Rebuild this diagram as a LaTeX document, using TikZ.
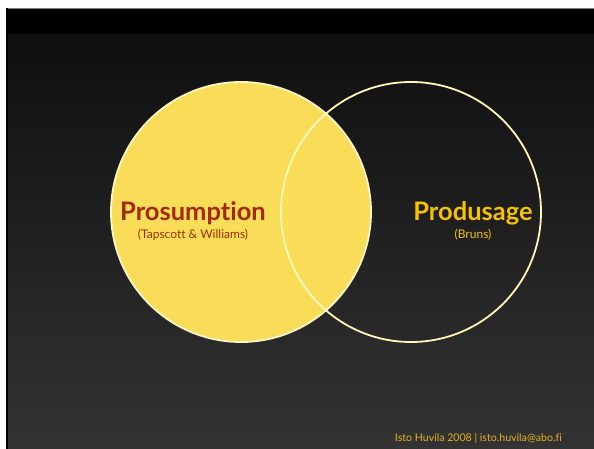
\documentclass[tikz,border=0pt]{standalone}
\usepackage{fontspec}
\setmainfont[Ligatures=NoCommon]{Lato}
\begin{document}
\begin{tikzpicture}[x=1pt,y=-1pt,
  title/.style={font=\bfseries\fontsize{25.5}{27}\selectfont, inner sep=0pt, anchor=base},
  sub/.style={font=\fontsize{12}{14}\selectfont, inner sep=0pt, anchor=base},
  foot/.style={font=\fontsize{10.6}{12}\selectfont, inner sep=0pt, anchor=base, text=footc}]
\definecolor{fillY}{HTML}{F9DD58}
\definecolor{rimL}{HTML}{FFF6C8}
\definecolor{rimR}{HTML}{FFF8B8}
\definecolor{redT}{HTML}{A32A00}
\definecolor{goldT}{HTML}{F6C200}
\definecolor{footc}{HTML}{E2B21E}
\useasboundingbox (0,0) rectangle (594,449);
\fill[white] (0,0) rectangle (594,449);
\shade[top color={rgb,255:red,15;green,15;blue,15}, bottom color={rgb,255:red,51;green,51;blue,51}, shading angle=0] (6,34) rectangle (594,449);
\fill[black] (6,8) rectangle (594,34);
\draw[gray, line width=0.6pt] (6,8.3) -- (594,8.3);
\fill[black] (6,8) rectangle (8,449);
\node[circle, minimum size=260pt, inner sep=0pt, fill=fillY, draw=rimL, line width=1.8pt] (L) at (241,212) {};
\node[circle, minimum size=260pt, inner sep=0pt, draw=rimR, line width=1.8pt] (R) at (411,212) {};
\node[title, text=redT] (pt) at (193,221) {Prosumption};
\node[sub, text=redT] (ps) at (193,238) {(Tapscott \& Williams)};
\node[title, text=goldT] (dt) at (473,221) {Produsage};
\node[sub, text=goldT] (ds) at (473,238) {(Bruns)};
\node[foot, anchor=base east] (f) at (562,441) {Isto Huvila 2008 | isto.huvila@abo.fi};
\end{tikzpicture}
\end{document}
